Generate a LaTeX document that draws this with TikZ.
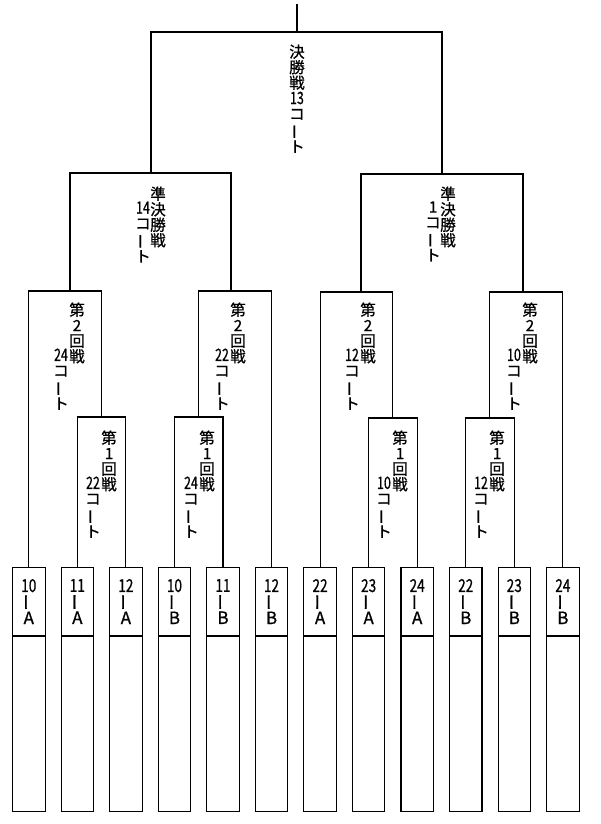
\documentclass[tikz,border=0pt]{standalone}
\usepackage{fontspec}
\usepackage{graphicx}
\newfontfamily\jp[FakeBold=0.8]{Noto Sans CJK JP}
\newcommand{\nar}[1]{\scalebox{0.8}[1.1]{#1}}
\newcommand{\narb}[1]{\scalebox{0.8}[1.05]{#1}}
\newcommand{\tate}{\rotatebox[origin=c]{90}{ー}}

\begin{document}
\begin{tikzpicture}[x=1pt, y=-1pt, line width=1.1pt, every node/.style={font=\jp},
	col/.style={anchor=north, align=center, inner sep=0pt, font=\jp\fontsize{15.5}{15.5}\selectfont},
	team/.style={draw, anchor=north west, minimum width=32.5pt, minimum height=68pt, inner sep=0pt, align=center, font=\jp\fontsize{17}{13.8}\selectfont},
	blank/.style={draw, anchor=north west, minimum width=32.5pt, minimum height=175pt}]
	\useasboundingbox (0,0) rectangle (600,824);
	\foreach \n/\l [count=\i] in {10/A,11/A,12/A,10/B,11/B,12/B,22/A,23/A,24/A,22/B,23/B,24/B} {
		\pgfmathsetmacro{\x}{12+48.55*(\i-1)}
		\node[team] (t\i) at (\x,567) {\narb{\n}\\\tate\\\l};
		\node[blank] (e\i) at (t\i.south west) {};
	}
	\coordinate (m1) at (101.1,417);
	\coordinate (m2) at (198.2,417);
	\coordinate (m3) at (392.4,418);
	\coordinate (m4) at (489.5,418);
	\coordinate (q1) at (70,291);
	\coordinate (q2) at (231,291);
	\coordinate (q3) at (361,292);
	\coordinate (q4) at (523,292);
	\coordinate (s1) at (151,173);
	\coordinate (s2) at (442,174);
	\coordinate (f) at (297,32);
	\coordinate (top) at (297,4);
	\foreach \a/\m/\b in {t2.north/m1/t3.north, t4.north/m2/t5.north, t8.north/m3/t9.north, t10.north/m4/t11.north, t1.north/q1/m1, m2/q2/t6.north, t7.north/q3/m3, m4/q4/t12.north, q1/s1/q2, q3/s2/q4, s1/f/s2}
		\draw (\a) |- (\m) -| (\b);
	\draw (f) -- (top);
	\node[col] (fin) at (297,44) {決\\勝\\戦\\\nar{13}\\コ\\\tate\\ト};
	\node[col] (sa-r) at (158,186) {準\\決\\勝\\戦};
	\node[col] (sa-l) at (143,201) {\nar{14}\\コ\\\tate\\ト};
	\node[col] (sb-r) at (448,186) {準\\決\\勝\\戦};
	\node[col] (sb-l) at (433,201) {1\\コ\\\tate\\ト};
	\foreach \nm/\x/\y/\rnd/\crt in {qa/77/302/2/24, qb/238/302/2/22, qc/368/302/2/12, qd/530/302/2/10, ra/109/430/1/22, rb/207/430/1/24, rc/400/430/1/10, rd/497/430/1/12} {
		\node[col] (\nm-r) at (\x,\y) {第\\\rnd\\回\\戦};
		\node[col] (\nm-l) at (\x-16,\y+46) {\nar{\crt}\\コ\\\tate\\ト};
	}
\end{tikzpicture}
\end{document}
